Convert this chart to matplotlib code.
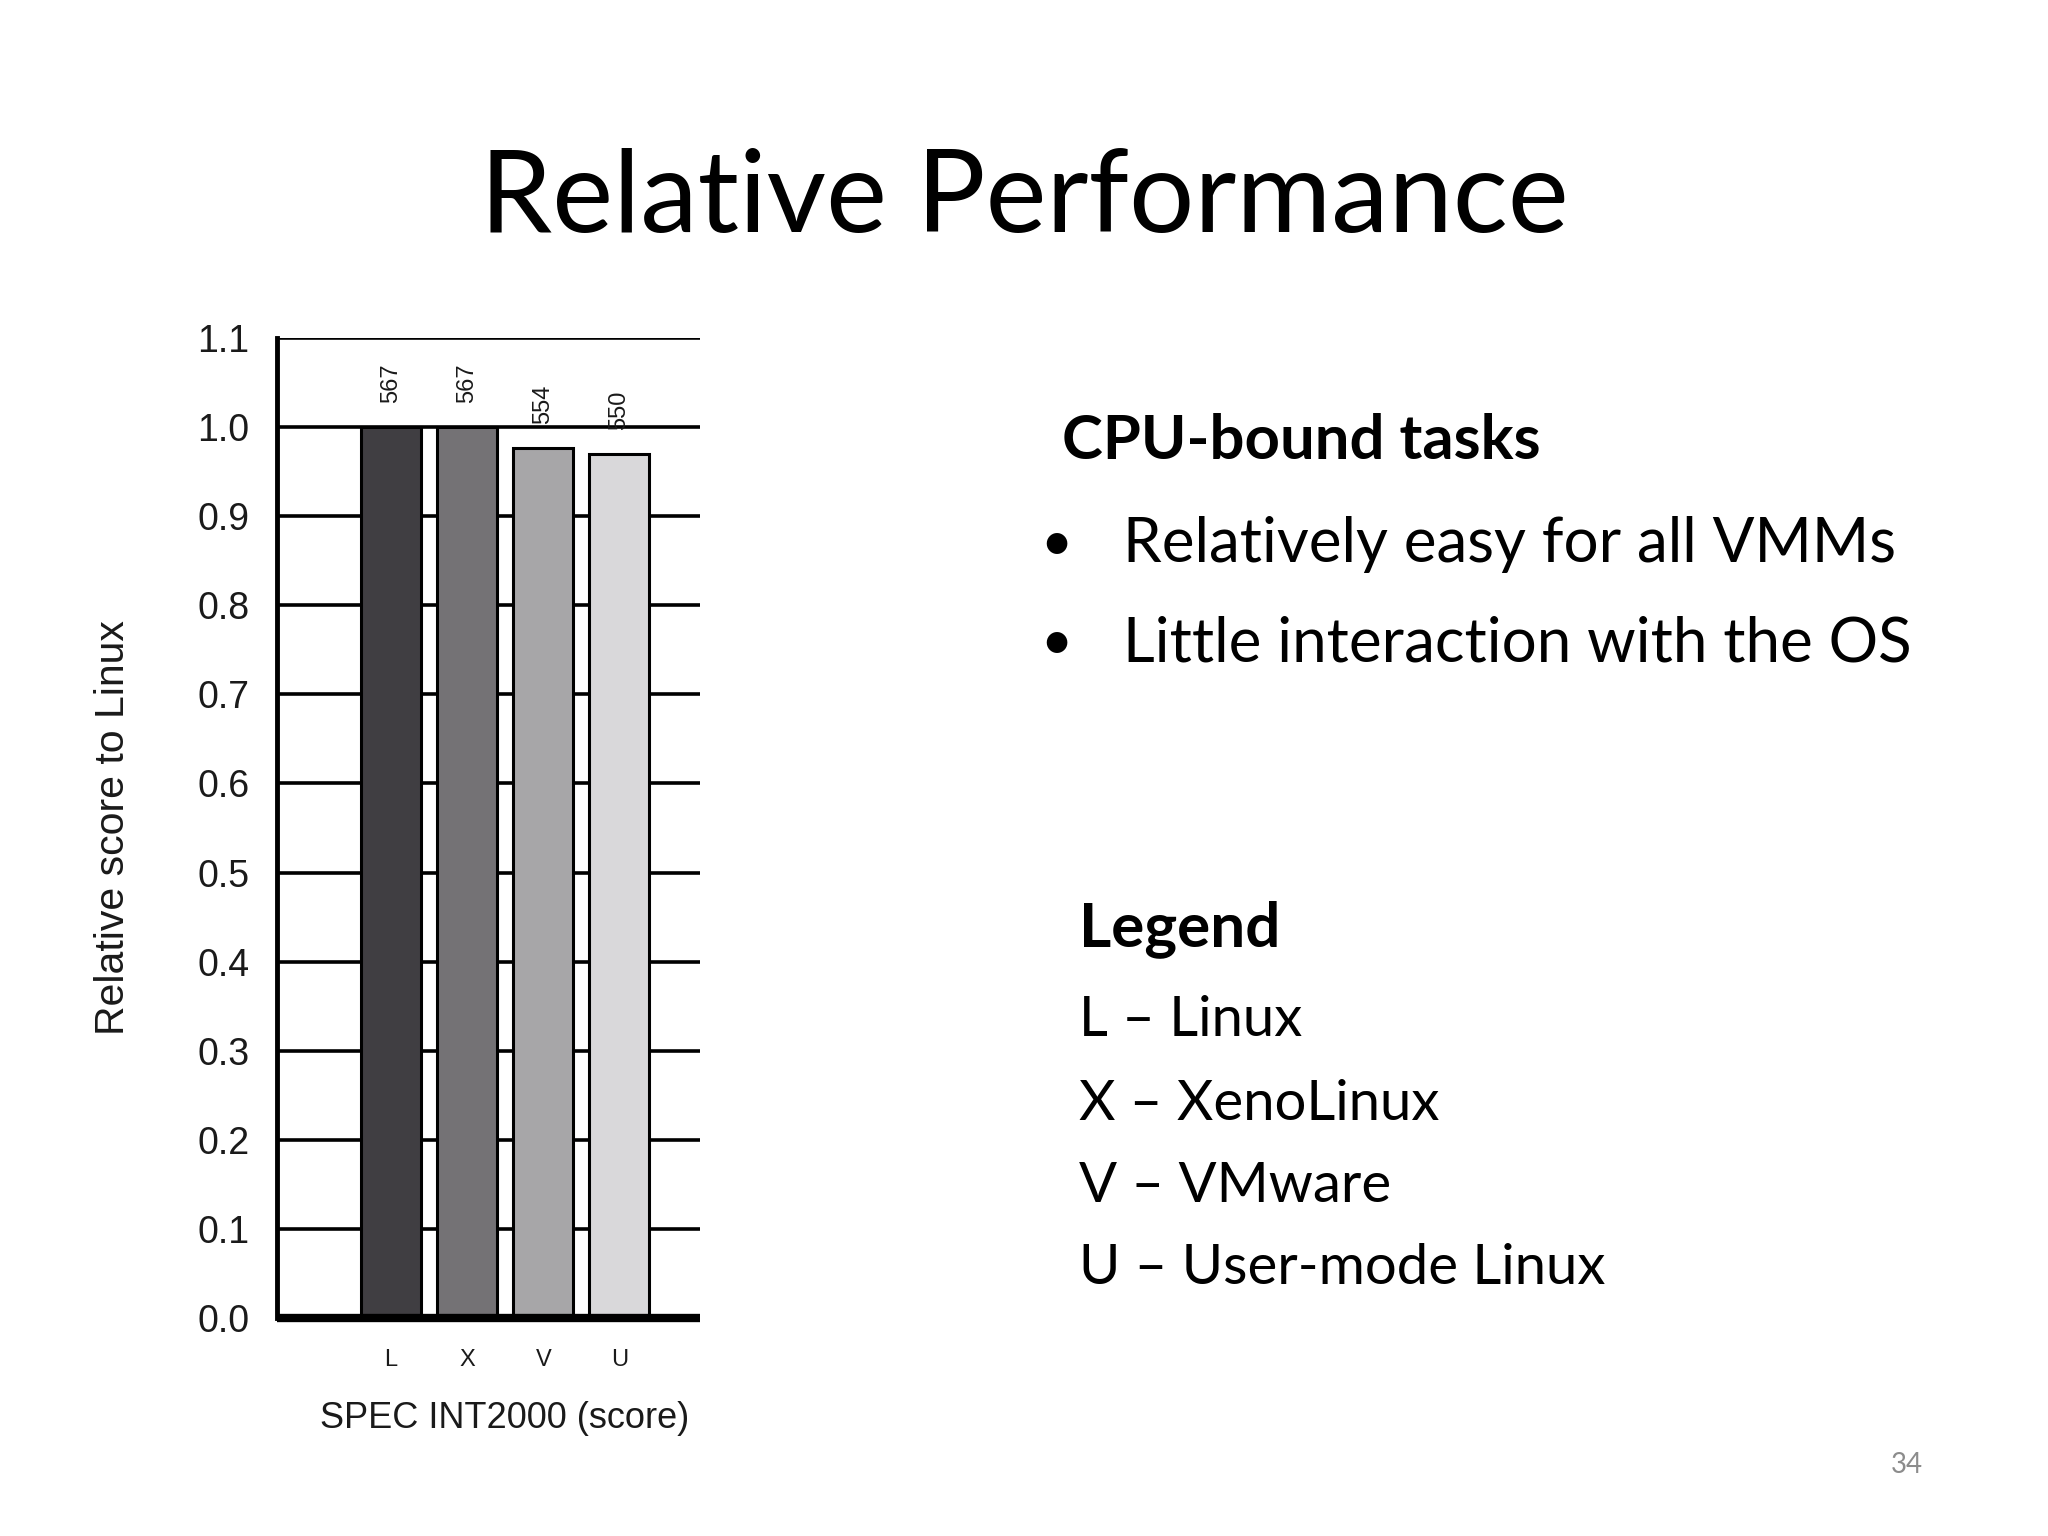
import matplotlib
matplotlib.use("Agg")
import matplotlib.pyplot as plt

categories = ["L", "X", "V", "U"]
scores = [567, 567, 554, 550]
relative = [1.0, 1.0, 0.977, 0.970]
bar_colors = ["#403e42", "#747275", "#a7a6a8", "#d9d8da"]
yticks = [0.0, 0.1, 0.2, 0.3, 0.4, 0.5, 0.6, 0.7, 0.8, 0.9, 1.0, 1.1]

title = "Relative Performance"
heading = "CPU-bound tasks"
bullets = ["Relatively easy for all VMMs", "Little interaction with the OS"]
legend_title = "Legend"
legend_items = ["L \u2013 Linux", "X \u2013 XenoLinux", "V \u2013 VMware", "U \u2013 User-mode Linux"]
page_number = "34"

W, H = 2048, 1536
fig = plt.figure(figsize=(W / 100, H / 100), dpi=100)
fig.patch.set_facecolor("white")

slide_font = ["Lato", "DejaVu Sans"]
chart_font = ["Liberation Sans", "DejaVu Sans"]

# Chart axes
ax = fig.add_axes([277 / W, 1 - 1318 / H, (700 - 277) / W, (1318 - 338) / H])
x = list(range(len(categories)))
ax.bar(x, relative, width=0.79, color=bar_colors, edgecolor="black", linewidth=2.2, zorder=3)
ax.set_xlim(-1.5, 4.06)
ax.set_ylim(0, 1.1)
ax.set_yticks(yticks)
ax.set_yticklabels([f"{v:.1f}" for v in yticks], fontfamily=chart_font, fontsize=27, color="#1a1a1a")
ax.set_xticks(x)
ax.set_xticklabels(categories, fontfamily=chart_font, fontsize=17, color="#1a1a1a")
ax.tick_params(axis="y", length=0, pad=20)
ax.tick_params(axis="x", length=0, pad=22)
for v in yticks:
    ax.axhline(v, color="black", linewidth=2.6, zorder=1, solid_capstyle="butt")
for s in ["top", "right"]:
    ax.spines[s].set_visible(False)
ax.spines["left"].set_linewidth(3.5)
ax.spines["bottom"].set_linewidth(6)
ax.spines["bottom"].set_capstyle("butt")
ax.spines["left"].set_zorder(4)
ax.spines["bottom"].set_zorder(4)
for xi, r, sc in zip(x, relative, scores):
    ax.text(xi, r + 0.027, str(sc), rotation=90, ha="center", va="bottom",
            fontfamily=chart_font, fontsize=17, color="#1a1a1a", zorder=5)
ax.set_xlabel("SPEC INT2000 (score)", fontfamily=chart_font, fontsize=26, color="#1a1a1a", labelpad=22)
ax.xaxis.label.set_x(0.537)
ax.set_ylabel("Relative score to Linux", fontfamily=chart_font, fontsize=29.5, color="#1a1a1a")
ax.yaxis.set_label_coords(-0.343, 0.5)

# Slide texts
fig.text(1024 / W, 1 - 200 / H, title, ha="center", va="center", fontfamily=slide_font, fontsize=83, color="black")
fig.text(1062 / W, 1 - 441 / H, heading, ha="left", va="center", fontfamily=slide_font, fontsize=44.4,
         fontweight="bold", color="black")
for yy, b in zip([544, 644], bullets):
    fig.text(1040 / W, 1 - yy / H, "\u2022", ha="left", va="center", fontfamily=slide_font, fontsize=40, color="black")
    fig.text(1123 / W, 1 - yy / H, b, ha="left", va="center", fontfamily=slide_font, fontsize=44.6, color="black")
fig.text(1079 / W, 1 - 929 / H, legend_title, ha="left", va="center", fontfamily=slide_font, fontsize=44.7,
         fontweight="bold", color="black")
for yy, item in zip([1021, 1105, 1187, 1269], legend_items):
    fig.text(1079 / W, 1 - yy / H, item, ha="left", va="center", fontfamily=slide_font, fontsize=40.5, color="black")
fig.text(1907 / W, 1 - 1465 / H, page_number, ha="center", va="center", fontfamily=slide_font, fontsize=20, color="#8c8c8c")

fig.savefig("out.png", dpi=100, facecolor="white")
